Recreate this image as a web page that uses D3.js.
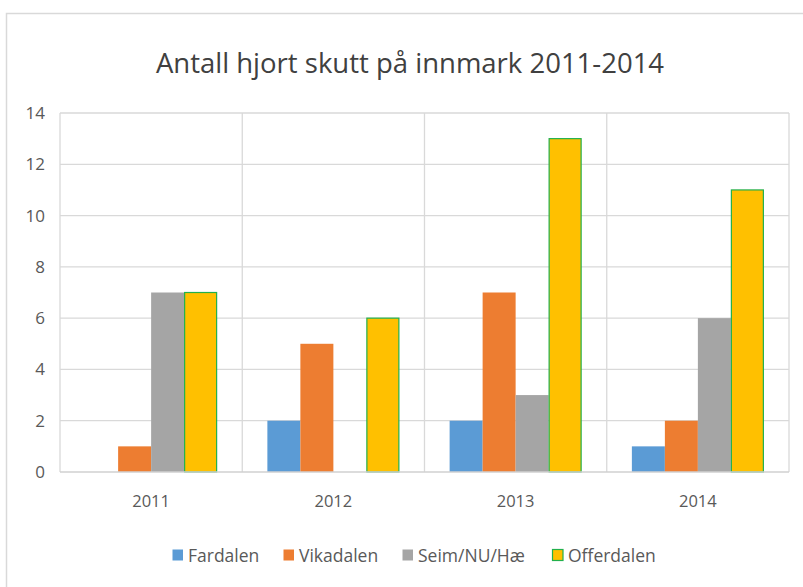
<!DOCTYPE html>
<html>
<head>
<meta charset="utf-8">
<script src="https://cdn.jsdelivr.net/npm/d3@7"></script>
<style>
  body { margin: 0; background: #fff; }
  svg { display: block; font-family: "Open Sans", sans-serif; }
</style>
</head>
<body>
<div id="chart"></div>
<script>
const years = ["2011", "2012", "2013", "2014"];
const seriesNames = ["Fardalen", "Vikadalen", "Seim/NU/Hæ", "Offerdalen"];
const fardalen = [0, 2, 2, 1];
const vikadalen = [1, 5, 7, 2];
const seim = [7, 0, 3, 6];
const offerdalen = [7, 6, 13, 11];
const yTicks = [0, 2, 4, 6, 8, 10, 12, 14];

const colors = ["#5b9bd5", "#ed7d31", "#a5a5a5", "#ffc000"];
const strokes = [null, null, null, "#22b04c"];
const allSeries = [fardalen, vikadalen, seim, offerdalen];

const W = 803, H = 587;
const svg = d3.select('#chart').append('svg').attr('width', W).attr('height', H);

// chart frame
svg.append('path').attr('d', `M6.5 ${H} V13.5 H${W}`).attr('fill', 'none').attr('stroke', '#d9d9d9').attr('stroke-width', 1.5);

svg.append('text').text('Antall hjort skutt på innmark 2011-2014')
   .attr('x', 410).attr('y', 73).attr('text-anchor', 'middle')
   .attr('fill', '#404040').style('font-size', '27.5px');

const pLeft = 60, pRight = 789, pTop = 113, pBottom = 472;
const x = d3.scaleBand().domain(years).range([pLeft, pRight]);
const xs = d3.scaleBand().domain(seriesNames).range([0, 132]);
const y = d3.scaleLinear().domain([0, 14]).range([pBottom, pTop]);

const g = svg.append('g');

// horizontal gridlines
g.selectAll('.hg').data(yTicks.filter(d => d > 0)).join('line')
 .attr('x1', pLeft).attr('x2', pRight)
 .attr('y1', d => y(d)).attr('y2', d => y(d))
 .attr('stroke', '#d9d9d9').attr('stroke-width', 1.3);

// vertical gridlines between categories
const vLines = years.map(d => x(d)).concat([pRight]);
g.selectAll('.vg').data(vLines).join('line')
 .attr('x1', d => d).attr('x2', d => d)
 .attr('y1', pTop).attr('y2', pBottom)
 .attr('stroke', '#d9d9d9').attr('stroke-width', 1.3);

// bars
seriesNames.forEach((s, si) => {
    const off = (x.bandwidth() - 132) / 2;
    g.selectAll(`.bar-${si}`).data(allSeries[si].map((v, i) => ({ v, year: years[i] })).filter(d => d.v > 0))
     .join('rect')
     .attr('x', d => x(d.year) + off + xs(s) + (strokes[si] ? 0.5 : 0))
     .attr('width', xs.bandwidth() - (strokes[si] ? 1 : 0))
     .attr('y', d => y(d.v))
     .attr('height', d => pBottom - y(d.v))
     .attr('fill', colors[si])
     .attr('stroke', strokes[si] || 'none')
     .attr('stroke-width', 1.2);
});

// baseline
g.append('line').attr('x1', pLeft).attr('x2', pRight).attr('y1', pBottom).attr('y2', pBottom)
 .attr('stroke', '#d0d0d0').attr('stroke-width', 1.5);

// y axis labels
const yAxis = svg.append('g').attr('transform', `translate(${pLeft - 15},0)`)
   .call(d3.axisLeft(y).tickValues(yTicks).tickSize(0).tickPadding(0).tickFormat(d3.format('d')));
yAxis.select('.domain').remove();
yAxis.selectAll('text').attr('fill', '#595959').style('font-size', '17px').style('font-family', '"Open Sans", sans-serif');

// x axis labels
const xAxis = svg.append('g').attr('transform', `translate(0,${pBottom + 23})`)
   .call(d3.axisBottom(x).tickSize(0).tickPadding(0));
xAxis.select('.domain').remove();
xAxis.selectAll('text').attr('fill', '#595959').style('font-size', '16.5px').style('font-family', '"Open Sans", sans-serif');

// legend
const legendX = [172, 283, 402, 552];
const lg = svg.append('g').attr('transform', 'translate(0,562)');
seriesNames.forEach((s, si) => {
    const it = lg.append('g').attr('transform', `translate(${legendX[si]},0)`);
    it.append('rect').attr('x', 0.5).attr('y', -12.5).attr('width', 10.5).attr('height', 11)
      .attr('fill', colors[si]).attr('stroke', strokes[si] || 'none').attr('stroke-width', 1.2);
    it.append('text').text(s).attr('x', 16).attr('y', 0).attr('fill', '#595959').style('font-size', '17.5px');
});
</script>
</body>
</html>
